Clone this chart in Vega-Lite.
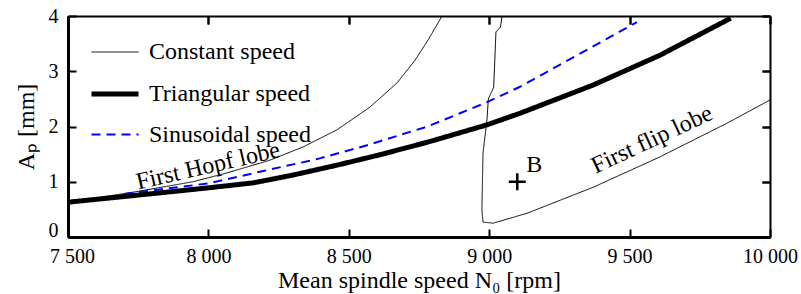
{
  "$schema": "https://vega.github.io/schema/vega-lite/v6.json",
  "width": 702,
  "height": 221,
  "autosize": {"type": "none"},
  "padding": {"left": 68, "top": 16, "right": 31, "bottom": 57},
  "background": "white",
  "config": {
    "view": {"stroke": null},
    "font": "Liberation Serif",
    "axis": {
      "labelFont": "Liberation Serif",
      "labelFontSize": 20,
      "labelColor": "black",
      "titleFont": "Liberation Serif",
      "titleFontSize": 24,
      "titleFontWeight": "normal",
      "titleColor": "black",
      "domainColor": "black",
      "tickColor": "black",
      "tickWidth": 2,
      "gridColor": "black",
      "gridWidth": 2,
      "gridOpacity": 1,
      "labelFlush": false
    },
    "legend": {
      "orient": "none",
      "legendX": 21,
      "legendY": 12,
      "labelFont": "Liberation Serif",
      "labelFontSize": 24,
      "labelColor": "black",
      "labelLimit": 0,
      "symbolSize": 2209,
      "labelOffset": 8,
      "rowPadding": 4,
      "padding": 0
    }
  },
  "datasets": {
    "lines": [
      {"s": "Constant speed", "seg": "hopf", "i": 1, "x": 7500, "y": 0.63},
      {"s": "Constant speed", "seg": "hopf", "i": 2, "x": 7731, "y": 0.81},
      {"s": "Constant speed", "seg": "hopf", "i": 3, "x": 7945, "y": 1.0},
      {"s": "Constant speed", "seg": "hopf", "i": 4, "x": 8066, "y": 1.16},
      {"s": "Constant speed", "seg": "hopf", "i": 5, "x": 8219, "y": 1.39},
      {"s": "Constant speed", "seg": "hopf", "i": 6, "x": 8337, "y": 1.63},
      {"s": "Constant speed", "seg": "hopf", "i": 7, "x": 8458, "y": 1.94},
      {"s": "Constant speed", "seg": "hopf", "i": 8, "x": 8575, "y": 2.35},
      {"s": "Constant speed", "seg": "hopf", "i": 9, "x": 8672, "y": 2.79},
      {"s": "Constant speed", "seg": "hopf", "i": 10, "x": 8736, "y": 3.2},
      {"s": "Constant speed", "seg": "hopf", "i": 11, "x": 8784, "y": 3.58},
      {"s": "Constant speed", "seg": "hopf", "i": 12, "x": 8832, "y": 4.0},
      {"s": "Constant speed", "seg": "flip", "i": 1, "x": 9046, "y": 4.0},
      {"s": "Constant speed", "seg": "flip", "i": 2, "x": 9040, "y": 3.8},
      {"s": "Constant speed", "seg": "flip", "i": 3, "x": 9024, "y": 3.71},
      {"s": "Constant speed", "seg": "flip", "i": 4, "x": 9016, "y": 2.71},
      {"s": "Constant speed", "seg": "flip", "i": 5, "x": 8997, "y": 2.5},
      {"s": "Constant speed", "seg": "flip", "i": 6, "x": 8992, "y": 2.12},
      {"s": "Constant speed", "seg": "flip", "i": 7, "x": 8978, "y": 1.52},
      {"s": "Constant speed", "seg": "flip", "i": 8, "x": 8974, "y": 0.49},
      {"s": "Constant speed", "seg": "flip", "i": 9, "x": 8978, "y": 0.27},
      {"s": "Constant speed", "seg": "flip", "i": 10, "x": 9014, "y": 0.25},
      {"s": "Constant speed", "seg": "flip", "i": 11, "x": 9135, "y": 0.43},
      {"s": "Constant speed", "seg": "flip", "i": 12, "x": 9370, "y": 0.9},
      {"s": "Constant speed", "seg": "flip", "i": 13, "x": 9608, "y": 1.45},
      {"s": "Constant speed", "seg": "flip", "i": 14, "x": 9847, "y": 2.06},
      {"s": "Constant speed", "seg": "flip", "i": 15, "x": 10000, "y": 2.48},
      {"s": "Sinusoidal speed", "seg": "sin", "i": 1, "x": 7700, "y": 0.78},
      {"s": "Sinusoidal speed", "seg": "sin", "i": 2, "x": 8000, "y": 0.97},
      {"s": "Sinusoidal speed", "seg": "sin", "i": 3, "x": 8200, "y": 1.2},
      {"s": "Sinusoidal speed", "seg": "sin", "i": 4, "x": 8387, "y": 1.41},
      {"s": "Sinusoidal speed", "seg": "sin", "i": 5, "x": 8565, "y": 1.66},
      {"s": "Sinusoidal speed", "seg": "sin", "i": 6, "x": 8780, "y": 2.0},
      {"s": "Sinusoidal speed", "seg": "sin", "i": 7, "x": 8896, "y": 2.24},
      {"s": "Sinusoidal speed", "seg": "sin", "i": 8, "x": 8992, "y": 2.44},
      {"s": "Sinusoidal speed", "seg": "sin", "i": 9, "x": 9110, "y": 2.72},
      {"s": "Sinusoidal speed", "seg": "sin", "i": 10, "x": 9192, "y": 2.95},
      {"s": "Sinusoidal speed", "seg": "sin", "i": 11, "x": 9370, "y": 3.45},
      {"s": "Sinusoidal speed", "seg": "sin", "i": 12, "x": 9526, "y": 3.89},
      {"s": "Triangular speed", "seg": "tri", "i": 1, "x": 7500, "y": 0.63},
      {"s": "Triangular speed", "seg": "tri", "i": 2, "x": 7830, "y": 0.8},
      {"s": "Triangular speed", "seg": "tri", "i": 3, "x": 8000, "y": 0.89},
      {"s": "Triangular speed", "seg": "tri", "i": 4, "x": 8160, "y": 0.98},
      {"s": "Triangular speed", "seg": "tri", "i": 5, "x": 8300, "y": 1.12},
      {"s": "Triangular speed", "seg": "tri", "i": 6, "x": 8458, "y": 1.3},
      {"s": "Triangular speed", "seg": "tri", "i": 7, "x": 8620, "y": 1.5},
      {"s": "Triangular speed", "seg": "tri", "i": 8, "x": 8790, "y": 1.73},
      {"s": "Triangular speed", "seg": "tri", "i": 9, "x": 8992, "y": 2.03},
      {"s": "Triangular speed", "seg": "tri", "i": 10, "x": 9110, "y": 2.24},
      {"s": "Triangular speed", "seg": "tri", "i": 11, "x": 9370, "y": 2.75},
      {"s": "Triangular speed", "seg": "tri", "i": 12, "x": 9608, "y": 3.29},
      {"s": "Triangular speed", "seg": "tri", "i": 13, "x": 9860, "y": 3.96}
    ],
    "points": [
      {"x": 9100, "y": 1.0, "label": "B"}
    ],
    "notes": [
      {"x": 7999, "y": 1.28, "label": "First Hopf lobe"},
      {"x": 9580, "y": 1.76, "label": "First flip lobe"}
    ]
  },
  "resolve": {"axis": {"x": "independent", "y": "independent"}},
  "layer": [
    {
      "data": {"name": "points"},
      "mark": {"type": "point", "shape": "M-1,0L1,0M0,-1L0,1", "filled": false, "stroke": "black", "strokeWidth": 2.5, "size": 289, "opacity": 1},
      "encoding": {
        "x": {
          "field": "x", "type": "quantitative",
          "scale": {"domain": [7500, 10000], "nice": false, "zero": false},
          "axis": {
            "orient": "bottom",
            "values": [7500, 8000, 8500, 9000, 9500, 10000],
            "labelExpr": "replace(format(datum.value, ','), ',', ' ')",
            "labelPadding": 9,
            "labelOffset": {"condition": {"test": "datum.value == 7500", "value": 4}, "value": 0},
            "ticks": false,
            "grid": false,
            "domainWidth": 3,
            "title": "Mean spindle speed N₀ [rpm]",
            "titlePadding": 2
          }
        },
        "y": {
          "field": "y", "type": "quantitative",
          "scale": {"domain": [0, 4], "nice": false},
          "axis": {
            "orient": "left",
            "values": [0, 1, 2, 3, 4],
            "labelPadding": 10,
            "labelOffset": {"condition": {"test": "datum.value == 0", "value": -7}, "value": 0},
            "ticks": false,
            "grid": false,
            "domainWidth": 3,
            "title": "Aₚ [mm]",
            "titlePadding": 10
          }
        }
      }
    },
    {
      "data": {"name": "lines"},
      "mark": {"type": "line", "strokeCap": "butt", "strokeJoin": "round"},
      "encoding": {
        "x": {
          "field": "x", "type": "quantitative",
          "axis": {
            "orient": "top",
            "values": [7500, 8000, 8500, 9000, 9500, 10000],
            "labels": false,
            "title": null,
            "ticks": true,
            "tickSize": -8,
            "grid": true,
            "gridDash": [8, 205, 8, 1000],
            "domainWidth": 2
          }
        },
        "y": {
          "field": "y", "type": "quantitative",
          "axis": {
            "orient": "right",
            "values": [0, 1, 2, 3, 4],
            "labels": false,
            "title": null,
            "ticks": true,
            "tickSize": -8,
            "grid": true,
            "gridDash": [8, 686, 8, 1000],
            "domainWidth": 2
          }
        },
        "color": {
          "field": "s", "type": "nominal",
          "scale": {"domain": ["Constant speed", "Triangular speed", "Sinusoidal speed"], "range": ["#000000", "#000000", "#0000ff"]},
          "legend": {"title": null}
        },
        "strokeWidth": {
          "field": "s", "type": "nominal",
          "scale": {"type": "ordinal", "domain": ["Constant speed", "Triangular speed", "Sinusoidal speed"], "range": [1, 5, 2]},
          "legend": {"title": null}
        },
        "strokeDash": {
          "field": "s", "type": "nominal",
          "scale": {"domain": ["Constant speed", "Triangular speed", "Sinusoidal speed"], "range": [[1, 0], [1, 0], [9, 6]]},
          "legend": {"title": null}
        },
        "detail": {"field": "seg"},
        "order": {"field": "i", "type": "quantitative"}
      }
    },
    {
      "data": {"name": "points"},
      "mark": {"type": "text", "fontSize": 24, "font": "Liberation Serif", "color": "black", "dx": 17, "dy": -17, "align": "center", "baseline": "middle"},
      "encoding": {
        "x": {"field": "x", "type": "quantitative", "axis": null},
        "y": {"field": "y", "type": "quantitative", "axis": null},
        "text": {"field": "label"}
      }
    },
    {
      "data": {"name": "notes"},
      "transform": [{"filter": "datum.label == 'First Hopf lobe'"}],
      "mark": {"type": "text", "fontSize": 24, "font": "Liberation Serif", "color": "black", "angle": 347, "align": "center", "baseline": "middle"},
      "encoding": {
        "x": {"field": "x", "type": "quantitative", "axis": null},
        "y": {"field": "y", "type": "quantitative", "axis": null},
        "text": {"field": "label"}
      }
    },
    {
      "data": {"name": "notes"},
      "transform": [{"filter": "datum.label == 'First flip lobe'"}],
      "mark": {"type": "text", "fontSize": 24, "font": "Liberation Serif", "color": "black", "angle": 335, "align": "center", "baseline": "middle"},
      "encoding": {
        "x": {"field": "x", "type": "quantitative", "axis": null},
        "y": {"field": "y", "type": "quantitative", "axis": null},
        "text": {"field": "label"}
      }
    }
  ]
}
